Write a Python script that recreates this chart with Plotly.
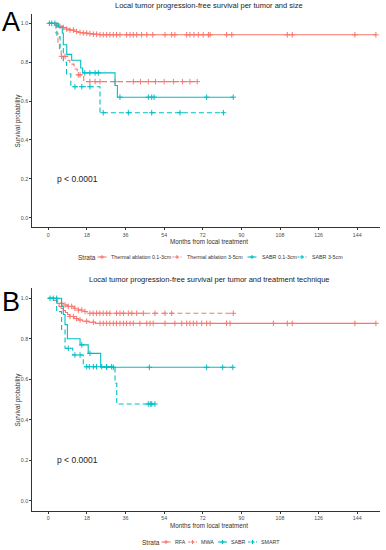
import plotly.graph_objects as go
import bisect

RED = "#F8766D"
CYAN = "#00BFC4"
FONT = "Liberation Sans"

# ---------------- Panel A data: per tumor and size ----------------
strata_a = ["Thermal ablation 0.1-3cm", "Thermal ablation 3-5cm", "SABR 0.1-3cm", "SABR 3-5cm"]

a_ta_small_t = [0, 3, 5, 7, 8.5, 10, 12, 14, 16, 18, 21, 24]
a_ta_small_s = [1.0, 0.99, 0.985, 0.978, 0.97, 0.965, 0.958, 0.953, 0.95, 0.947, 0.944, 0.941]
a_ta_small_end = 152.7
a_ta_small_cens = [3.9, 5.4, 7.0, 8.6, 10.1, 11.7, 13.2, 14.8, 16.3, 17.9, 19.4, 21.0, 22.5, 24.1,
                   25.6, 27.2, 28.7, 30.3, 31.8, 33.4, 36.5, 38.1, 39.6, 41.2, 43.5, 45.9, 48.7,
                   54.4, 57.5, 59.0, 64.5, 66.0, 67.9, 69.9, 72.2, 74.6, 75.4, 83.1, 85.5,
                   111.4, 113.7, 142.9, 152.7]

a_ta_large_t = [0, 3.5, 4.5, 5.2, 6, 9, 10, 12, 13.5, 16.5]
a_ta_large_s = [1.0, 0.95, 0.90, 0.86, 0.83, 0.81, 0.79, 0.765, 0.735, 0.70]
a_ta_large_end = 69.4
a_ta_large_cens = [6.2, 7.8, 14.0, 14.8, 19.4, 21.8, 24.1, 31.1, 39.6, 43.0, 46.6, 50.0,
                   54.0, 58.3, 62.5, 66.0, 69.4]

a_sabr_small_t = [0, 4.7, 6.5, 7.0, 8.6, 10.9, 15.1, 16.0, 31.1, 32.2]
a_sabr_small_s = [1.0, 0.98, 0.95, 0.89, 0.84, 0.81, 0.77, 0.745, 0.68, 0.62]
a_sabr_small_end = 86.2
a_sabr_small_cens = [0.5, 1.6, 3.1, 17.0, 19.4, 21.8, 23.3, 33.4, 46.6, 48.2, 49.3, 73.8, 86.2]

a_sabr_large_t = [0, 4.0, 5.5, 7.0, 8.5, 10.5, 24.1]
a_sabr_large_s = [1.0, 0.93, 0.87, 0.80, 0.74, 0.674, 0.54]
a_sabr_large_end = 81.6
a_sabr_large_cens = [12.4, 15.6, 19.4, 25.6, 37.3, 48.2, 61.4, 81.6]

# ---------------- Panel B data: per tumor and treatment technique ----------------
strata_b = ["RFA", "MWA", "SABR", "SMART"]

b_rfa_t = [0, 2.5, 4, 5, 6, 7, 8, 9, 10, 12, 14, 16, 19, 22]
b_rfa_s = [1.0, 0.99, 0.975, 0.96, 0.95, 0.94, 0.93, 0.92, 0.91, 0.90, 0.893, 0.887, 0.882, 0.876]
b_rfa_end = 152.7
b_rfa_cens = [10.1, 11.7, 13.2, 14.8, 17.9, 21.0, 24.1, 25.6, 27.2, 28.7, 30.3, 31.8, 33.4, 35.0,
              36.5, 38.1, 39.6, 42.7, 45.9, 47.4, 48.9, 54.4, 59.0, 62.2, 64.5, 66.0, 67.6,
              69.2, 71.5, 73.8, 75.4, 83.1, 84.7, 104.9, 111.4, 113.7, 142.9, 152.7]

b_mwa_t = [0, 4, 5.5, 7, 9, 12, 14, 16, 18]
b_mwa_s = [1.0, 0.985, 0.975, 0.967, 0.96, 0.951, 0.942, 0.935, 0.926]
b_mwa_end = 86.2
b_mwa_cens = [6.2, 7.8, 9.3, 10.9, 12.4, 14.0, 15.6, 17.1, 19.4, 20.9, 22.5, 24.0, 25.6, 27.2,
              28.7, 31.8, 33.4, 35.0, 37.3, 38.9, 41.2, 44.3, 49.7, 54.4, 57.5, 86.2]

b_sabr_t = [0, 6.2, 7.0, 7.8, 8.9, 14.8, 18.6, 24.4]
b_sabr_s = [1.0, 0.96, 0.92, 0.87, 0.80, 0.77, 0.728, 0.659]
b_sabr_end = 86.2
b_sabr_cens = [0.8, 2.3, 3.9, 15.6, 19.4, 27.2, 30.3, 47.1, 73.8, 81.3, 86.0]

b_smart_t = [0, 3.9, 6.2, 7.8, 11.4, 16.3, 31.1, 31.9]
b_smart_s = [1.0, 0.934, 0.843, 0.753, 0.72, 0.662, 0.58, 0.478]
b_smart_end = 49.7
b_smart_cens = [9.3, 12.4, 14.8, 17.9, 19.1, 21.0, 22.5, 24.9, 27.2, 29.5, 46.6, 47.5, 48.2, 49.7]

x_ticks = [0, 18, 36, 54, 72, 90, 108, 126, 144]
y_ticks = [0.0, 0.2, 0.4, 0.6, 0.8, 1.0]
title_a = "Local tumor progression-free survival per tumor and size"
title_b = "Local tumor progression-free survival per tumor and treatment technique"
x_title = "Months from local treatment"
y_title = "Survival probability"
legend_title = "Strata"
pval_text = "p < 0.0001"

W, H = 386, 550
DASH = "5px,3px"


def step_at(times, surv, t):
    i = bisect.bisect_right(times, t) - 1
    return surv[max(i, 0)]


fig = go.Figure()


def add_curve(name, times, surv, end, cens, color, dash, xa, ya):
    fig.add_trace(go.Scatter(
        x=times + [end], y=surv + [surv[-1]], mode="lines", line_shape="hv", name=name,
        line=dict(color=color, width=1.1, dash=dash), showlegend=False,
        xaxis=xa, yaxis=ya, hoverinfo="skip"))
    fig.add_trace(go.Scatter(
        x=cens, y=[step_at(times, surv, c) for c in cens], mode="markers", name=name,
        marker=dict(symbol="cross-thin", size=4, line=dict(color=color, width=1)),
        showlegend=False, xaxis=xa, yaxis=ya, hoverinfo="skip"))


add_curve(strata_a[0], a_ta_small_t, a_ta_small_s, a_ta_small_end, a_ta_small_cens, RED, "solid", "x", "y")
add_curve(strata_a[1], a_ta_large_t, a_ta_large_s, a_ta_large_end, a_ta_large_cens, RED, DASH, "x", "y")
add_curve(strata_a[2], a_sabr_small_t, a_sabr_small_s, a_sabr_small_end, a_sabr_small_cens, CYAN, "solid", "x", "y")
add_curve(strata_a[3], a_sabr_large_t, a_sabr_large_s, a_sabr_large_end, a_sabr_large_cens, CYAN, DASH, "x", "y")

add_curve(strata_b[0], b_rfa_t, b_rfa_s, b_rfa_end, b_rfa_cens, RED, "solid", "x2", "y2")
add_curve(strata_b[1], b_mwa_t, b_mwa_s, b_mwa_end, b_mwa_cens, RED, DASH, "x2", "y2")
add_curve(strata_b[2], b_sabr_t, b_sabr_s, b_sabr_end, b_sabr_cens, CYAN, "solid", "x2", "y2")
add_curve(strata_b[3], b_smart_t, b_smart_s, b_smart_end, b_smart_cens, CYAN, DASH, "x2", "y2")

xdom = [32.3 / W, 380 / W]
ydom_a = [1 - 227.4 / H, 1 - 13.6 / H]
ydom_b = [1 - 510.8 / H, 1 - 288.2 / H]

axis_common = dict(showline=True, linecolor="#333333", linewidth=1, ticks="outside", ticklen=2,
                   tickcolor="#333333", showgrid=False, zeroline=False, automargin=False,
                   tickfont=dict(family=FONT, size=5.3, color="#4D4D4D"))
xr = [-7.46, 154.6]
yr = [-0.05, 1.05]

fig.update_layout(
    width=W, height=H, margin=dict(l=0, r=0, t=0, b=0, autoexpand=False),
    paper_bgcolor="white", plot_bgcolor="white", showlegend=False,
    font=dict(family=FONT, color="#222222"),
    xaxis=dict(domain=xdom, range=xr, tickvals=x_ticks, anchor="y", **axis_common),
    yaxis=dict(domain=ydom_a, range=yr, tickvals=y_ticks, tickformat=".1f", anchor="x", **axis_common),
    xaxis2=dict(domain=xdom, range=xr, tickvals=x_ticks, anchor="y2", **axis_common),
    yaxis2=dict(domain=ydom_b, range=yr, tickvals=y_ticks, tickformat=".1f", anchor="x2", **axis_common),
)


def paper_y(py):
    return 1 - py / H


annotations = []
shapes = []


def ann(text, px, py, size, color="#222222", xanchor="center", angle=0):
    annotations.append(dict(
        text=text, x=px / W, y=paper_y(py), xref="paper", yref="paper", showarrow=False,
        textangle=angle, font=dict(family=FONT, size=size, color=color),
        xanchor=xanchor, yanchor="middle", borderpad=0))


# titles
ann(title_a, 209, 6, 7.5)
ann(title_b, 209.5, 280, 7.5)
# panel letters
ann("A", 1, 22, 27, "black", xanchor="left")
ann("B", 1, 302, 27, "black", xanchor="left")
# axis titles
ann(x_title, 209, 241, 6.3, "#333333")
ann(x_title, 209, 525.5, 6.3, "#333333")
ann(y_title, 17, 120.5, 6.3, "#333333", angle=-90)
ann(y_title, 17, 399.5, 6.3, "#333333", angle=-90)
# p-values
annotations.append(dict(text=pval_text, x=3.0, y=0.2, xref="x", yref="y", showarrow=False,
                        font=dict(family=FONT, size=8.5, color="#222222"), xanchor="left", yanchor="middle"))
annotations.append(dict(text=pval_text, x=3.0, y=0.2, xref="x2", yref="y2", showarrow=False,
                        font=dict(family=FONT, size=8.5, color="#222222"), xanchor="left", yanchor="middle"))


def legend(py, title_x, items):
    ann(legend_title, title_x, py, 6.5, "#333333", xanchor="left")
    for name, color, dash, gx, tx in items:
        shapes.append(dict(type="line", xref="paper", yref="paper",
                           x0=(gx - 4.5) / W, x1=(gx + 4.5) / W, y0=paper_y(py), y1=paper_y(py),
                           line=dict(color=color, width=1.1, dash="solid" if dash == "solid" else "2px,2px")))
        shapes.append(dict(type="line", xref="paper", yref="paper",
                           x0=gx / W, x1=gx / W, y0=paper_y(py - 2), y1=paper_y(py + 2),
                           line=dict(color=color, width=1)))
        shapes.append(dict(type="line", xref="paper", yref="paper",
                           x0=(gx - 2) / W, x1=(gx + 2) / W, y0=paper_y(py), y1=paper_y(py),
                           line=dict(color=color, width=1)))
        ann(name, tx, py, 5.3, "#333333", xanchor="left")


legend(257, 77, [
    (strata_a[0], RED, "solid", 102, 110),
    (strata_a[1], RED, "dash", 177, 186),
    (strata_a[2], CYAN, "solid", 252, 261),
    (strata_a[3], CYAN, "dash", 302, 311),
])
legend(542, 141, [
    (strata_b[0], RED, "solid", 166, 174),
    (strata_b[1], RED, "dash", 192.5, 200),
    (strata_b[2], CYAN, "solid", 222.5, 230),
    (strata_b[3], CYAN, "dash", 252.5, 260),
])

fig.update_layout(annotations=annotations, shapes=shapes)

fig.write_html(
    "out.html",
    config={"displayModeBar": False, "staticPlot": True},
    post_script="document.body.style.margin='0';document.body.style.overflow='hidden';",
)
